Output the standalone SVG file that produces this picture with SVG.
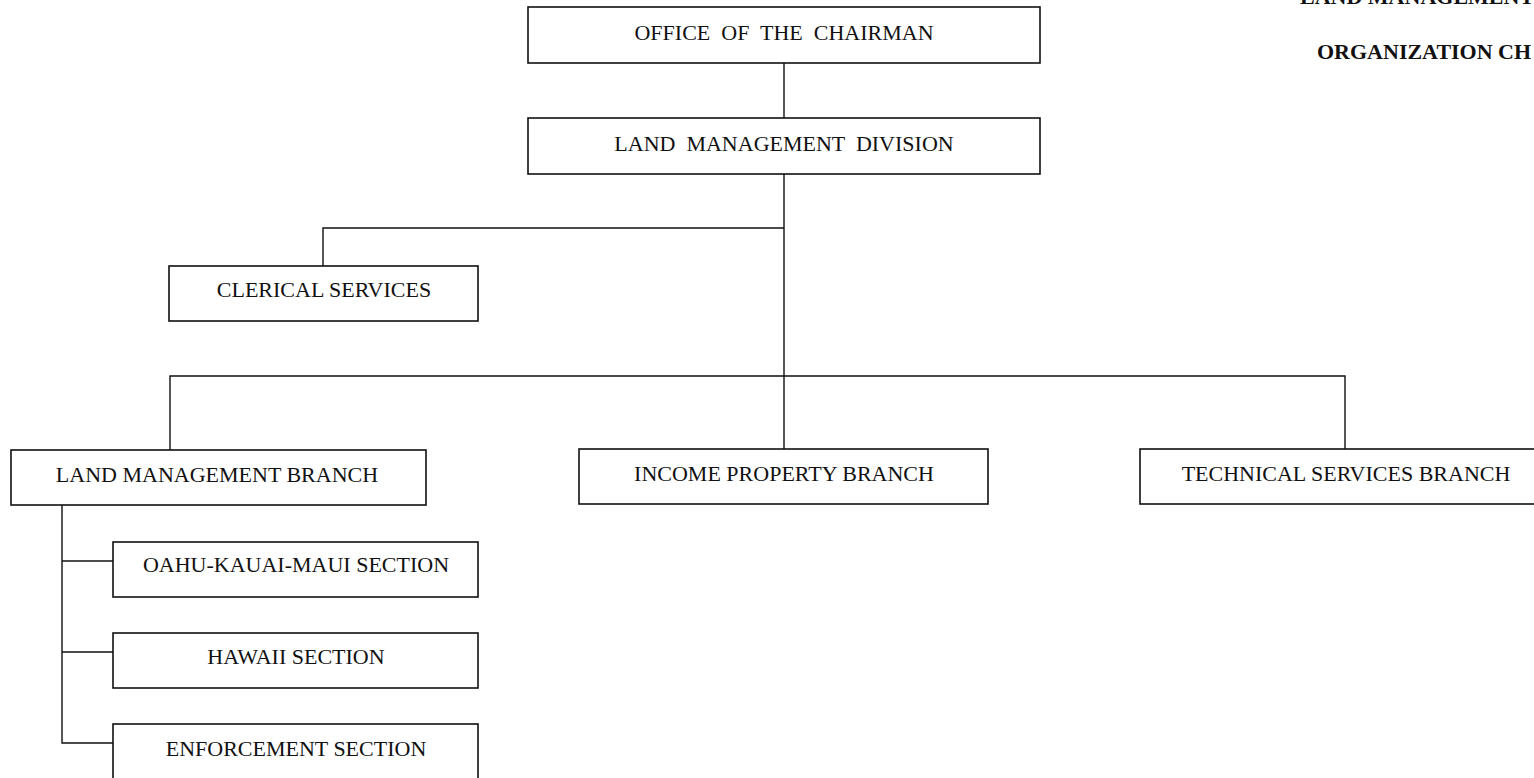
<svg xmlns="http://www.w3.org/2000/svg" width="1534" height="778" viewBox="0 0 1534 778">
<style>
.box{fill:#fff;stroke:#111;stroke-width:1.6}
.lbl{font-family:"Liberation Serif","Times New Roman",serif;font-size:22px;fill:#111;text-anchor:middle;white-space:pre}
.ttl{font-family:"Liberation Serif","Times New Roman",serif;font-size:22px;font-weight:bold;fill:#111}
.conn{fill:none;stroke:#111;stroke-width:1.4}
</style>
<rect width="1534" height="778" fill="#fff"/>
<g id="title">
<text class="ttl" x="1300" y="4">LAND MANAGEMENT</text>
<text class="ttl" x="1317" y="59">ORGANIZATION CH</text>
</g>
<g id="connectors">
<path class="conn" d="M784 63V118"/>
<path class="conn" d="M784 174V449"/>
<path class="conn" d="M784 228H323V266"/>
<path class="conn" d="M170 450V376H1345V449"/>
<path class="conn" d="M62 505V743H113"/>
<path class="conn" d="M62 561H113"/>
<path class="conn" d="M62 652H113"/>
</g>
<g id="office-chairman">
<rect class="box" x="528" y="7" width="512" height="56"/>
<text class="lbl" x="784" y="40" xml:space="preserve">OFFICE  OF  THE  CHAIRMAN</text>
</g>
<g id="land-management-division">
<rect class="box" x="528" y="118" width="512" height="56"/>
<text class="lbl" x="784" y="151" xml:space="preserve">LAND  MANAGEMENT  DIVISION</text>
</g>
<g id="clerical-services">
<rect class="box" x="169" y="266" width="309" height="55"/>
<text class="lbl" x="324" y="297">CLERICAL SERVICES</text>
</g>
<g id="land-management-branch">
<rect class="box" x="11" y="450" width="415" height="55"/>
<text class="lbl" x="217" y="482">LAND MANAGEMENT BRANCH</text>
</g>
<g id="income-property-branch">
<rect class="box" x="579" y="449" width="409" height="55"/>
<text class="lbl" x="784" y="481">INCOME PROPERTY BRANCH</text>
</g>
<g id="technical-services-branch">
<rect class="box" x="1140" y="449" width="412" height="55"/>
<text class="lbl" x="1346" y="481">TECHNICAL SERVICES BRANCH</text>
</g>
<g id="oahu-kauai-maui-section">
<rect class="box" x="113" y="542" width="365" height="55"/>
<text class="lbl" x="296" y="572">OAHU-KAUAI-MAUI SECTION</text>
</g>
<g id="hawaii-section">
<rect class="box" x="113" y="633" width="365" height="55"/>
<text class="lbl" x="296" y="664">HAWAII SECTION</text>
</g>
<g id="enforcement-section">
<rect class="box" x="113" y="724" width="365" height="56"/>
<text class="lbl" x="296" y="756">ENFORCEMENT SECTION</text>
</g>
</svg>
